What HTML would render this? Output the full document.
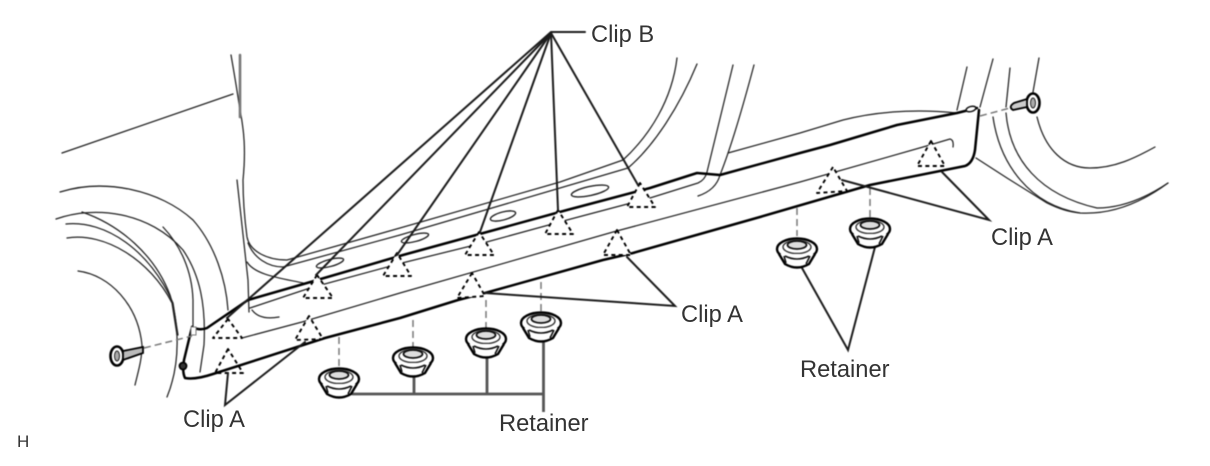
<!DOCTYPE html>
<html>
<head>
<meta charset="utf-8">
<style>
html,body{margin:0;padding:0;background:#fff;width:1210px;height:466px;overflow:hidden}
svg{display:block}
.art{filter:blur(0.4px)}
.thin{fill:none;stroke:#222;stroke-width:1.25;stroke-linecap:round;stroke-linejoin:round}
.thick{fill:none;stroke:#000;stroke-width:2.5;stroke-linecap:round;stroke-linejoin:round}
.lead{fill:none;stroke:#1c1c1c;stroke-width:2;stroke-linecap:round;stroke-linejoin:miter}
.stem{fill:none;stroke:#555;stroke-width:2.8}
.dash{fill:none;stroke:#777;stroke-width:1.5;stroke-dasharray:7 4}
.tri{fill:#fff;stroke:#000;stroke-width:1.9;stroke-dasharray:4 3.4;stroke-linejoin:round}
text{font-family:"Liberation Sans",sans-serif;fill:#333;font-size:23.7px;filter:blur(0.3px)}
</style>
</head>
<body>
<svg width="1210" height="466" viewBox="0 0 1210 466" xmlns="http://www.w3.org/2000/svg">
<defs>
<g id="ret">
  <ellipse cx="0" cy="-4" rx="20" ry="10.5" fill="#fff" stroke="#000" stroke-width="2.4"/>
  <ellipse cx="0" cy="-6" rx="14" ry="6.5" fill="none" stroke="#333" stroke-width="1.4"/>
  <ellipse cx="0" cy="-8" rx="9.5" ry="4" fill="#ddd" stroke="#111" stroke-width="1.8"/>
  <path d="M-18 1 L-12 11 Q0 18 12 11 L18 1" fill="#fff" stroke="#000" stroke-width="2.4"/>
  <path d="M-12 3 Q0 9 12 3 M-11 10 L-13 3 M9 11 L13 3" fill="none" stroke="#111" stroke-width="1.6"/>
</g>
<g id="bolt">
  <ellipse cx="0" cy="0" rx="6.5" ry="9.5" fill="#fff" stroke="#000" stroke-width="2.6"/>
  <ellipse cx="0" cy="0" rx="2.5" ry="5" fill="#aaa" stroke="#222" stroke-width="1"/>
</g>
</defs>
<g class="art">
<!-- hood and door -->
<path class="thin" d="M62 153 L233 94"/>
<path class="thin" d="M231 55 C234 72 237 90 240 110 C244 130 246 150 243 180 C243 205 245 222 247 237 C250 252 268 260 287 260 L400 228 L560 182 L623 160 C650 135 672 100 677 58"/>
<path class="thin" style="stroke:#777;stroke-width:2.6" d="M240 55 L240 117"/>
<path class="thin" d="M237 180 L248 280 L249 312"/>
<path class="thin" d="M248 243 C254 258 268 267 283 267 L400 235 L560 188 L628 168 C655 145 680 105 697 64"/>
<path class="thin" d="M247 262 C255 275 280 278 303 283"/>
<path class="thin" d="M252 310 C258 318 268 319 279 317"/>
<!-- left wheel arcs -->
<path class="thin" d="M60 192 C105 178 160 190 193 220 C215 245 226 280 228 310"/>
<path class="thin" d="M56 219 C95 205 150 212 183 250 C200 275 206 305 204 345 L200 372"/>
<path class="thin" d="M163 227 C180 245 192 270 193 300 L193 328"/>
<path class="thin" d="M82 212 C120 225 155 255 170 295 C178 320 182 360 167 397"/>
<path class="thin" d="M66 224 C105 220 150 250 173 303 L178 335"/>
<path class="thin" d="M67 238 C105 232 150 260 172 303 L177 335"/>
<path class="thin" d="M78 271 C110 275 138 305 142 345 C142 360 138 372 135 385"/>
<!-- right wheel and door -->
<path class="thin" d="M733 65 L707 172 Q705 180 698 183 L650 198 L567 220 L483 243 L402 263 L310 288 L250 308"/>
<path class="thin" d="M754 65 C742 110 730 150 720 175 Q716 190 698 196"/>
<path class="thin" d="M728 153 L800 133 L843 120 C870 113 910 108 957 113"/>
<path class="thin" d="M967 67 L957 110"/>
<path class="thin" d="M993 59 L980 107"/>
<path class="thin" d="M1010 68 L1006 107"/>
<path class="thin" d="M1039 58 L1033 92"/>
<path class="thin" d="M1006 113 C1010 160 1040 195 1097 208 C1125 208 1150 195 1168 183"/>
<path class="thin" d="M993 117 C1000 165 1030 205 1080 213 C1115 215 1145 200 1168 183"/>
<path class="thin" d="M976 158 L1007 178 L1047 203 Q1065 212 1080 213"/>
<path class="thin" d="M1037 117 C1045 150 1065 168 1090 168 C1115 168 1135 158 1155 147"/>
<!-- sill outline -->
<path class="thick" d="M192 327 Q200 331 207 328 L248 300 L307 283 L403 255 L487 232 L567 210 L650 188 L697 173 L720 175 L800 153 L830 145 L897 125 L957 113 L977 108"/>
<path class="thick" d="M979 110 L975 150 Q973 163 965 166 L870 185 L760 217 L633 253 L603 260 L485 293 L458 300 L400 318 L325 338 L213 374 Q195 380 185 378 Q182 372 184 360 L192 327"/>
<path class="thin" d="M242 338 L302 322 L400 293 L613 232 L800 182 L923 147 L950 139 Q954 140 953 147"/>
<ellipse cx="971" cy="109" rx="5" ry="2.5" fill="#fff" stroke="#111" stroke-width="1.5" transform="rotate(-15 971 109)"/>
<circle cx="183" cy="366" r="3.5" fill="#333" stroke="#000" stroke-width="1.8"/>
<rect x="191" y="327" width="5" height="8" fill="#fff" stroke="#777"/>
<!-- slots -->
<g fill="#fff" stroke="#222" stroke-width="1.4">
<ellipse cx="330" cy="263" rx="14" ry="3.5" transform="rotate(-15 330 263)"/>
<ellipse cx="415" cy="238" rx="14" ry="3.5" transform="rotate(-15 415 238)"/>
<ellipse cx="503" cy="216" rx="13" ry="4" transform="rotate(-15 503 216)"/>
<ellipse cx="590" cy="191" rx="19" ry="4.5" transform="rotate(-12 590 191)"/>
</g>
<!-- bolts -->
<use href="#bolt" x="117" y="356"/>
<path d="M123 351 L143 347 L143 353 L123 360 Z" fill="#bbb" stroke="#000" stroke-width="1.8"/>
<use href="#bolt" x="1033" y="103"/>
<path d="M1027 99 L1014 103 Q1008 107 1013 110 L1027 107 Z" fill="#ccc" stroke="#000" stroke-width="1.8"/>
<path class="dash" d="M144 348 L192 336"/>
<path class="dash" d="M980 116 L1010 108"/>
<!-- dashed triangles -->
<path class="tri" d="M228 319 L213 338 L242 338 Z"/>
<path class="tri" style="fill:none" d="M228 349 L215 373 L243 373 Z"/>
<path class="tri" d="M309 316 L295 340 L323 339 Z"/>
<path class="tri" d="M317 275 L303 298 L333 298 Z"/>
<path class="tri" d="M397 253 L383 276 L411 276 Z"/>
<path class="tri" d="M479 232 L465 255 L494 255 Z"/>
<path class="tri" d="M558 210 L545 234 L573 234 Z"/>
<path class="tri" d="M640 183 L627 207 L655 207 Z"/>
<path class="tri" d="M472 273 L457 298 L485 296 Z"/>
<path class="tri" d="M617 230 L603 255 L631 255 Z"/>
<path class="tri" d="M833 167 L817 193 L847 191 Z"/>
<path class="tri" d="M931 141 L917 166 L945 166 Z"/>
<!-- retainer dashes -->
<path class="dash" d="M339 337 L339 367"/>
<path class="dash" d="M413 320 L413 348"/>
<path class="dash" d="M486 300 L486 328"/>
<path class="dash" d="M541 282 L541 312"/>
<path class="dash" d="M797 208 L797 236"/>
<path class="dash" d="M870 188 L870 218"/>
<!-- leaders -->
<path class="lead" d="M585 32 L551 32 L227 318"/>
<path class="lead" d="M551 33 L316 275"/>
<path class="lead" d="M551 33 L397 255"/>
<path class="lead" d="M551 33 L480 232"/>
<path class="lead" d="M551 33 L558 210"/>
<path class="lead" d="M551 33 L638 185"/>
<path class="lead" d="M228 373 L225 405 L305 342"/>
<path class="lead" d="M485 293 L675 306 L627 257"/>
<path class="lead" d="M842 180 L989 220 L942 172"/>
<path class="lead" d="M802 268 L848 350 L875 247"/>
<path class="stem" d="M352 394 L543.5 394 M414 376 L414 394 M487 357 L487 394 M543.5 342 L543.5 412"/>
<!-- retainers -->
<use href="#ret" x="339" y="383"/>
<use href="#ret" x="413" y="362"/>
<use href="#ret" x="486" y="343"/>
<use href="#ret" x="541" y="327"/>
<use href="#ret" x="797" y="253"/>
<use href="#ret" x="870" y="233"/>
</g>
<text x="591" y="42">Clip B</text>
<text x="183" y="427">Clip A</text>
<text x="681" y="322">Clip A</text>
<text x="991" y="245">Clip A</text>
<text x="499" y="431">Retainer</text>
<text x="800" y="377">Retainer</text>
<text x="17" y="447" style="font-size:17px">H</text>
</svg>
</body>
</html>
